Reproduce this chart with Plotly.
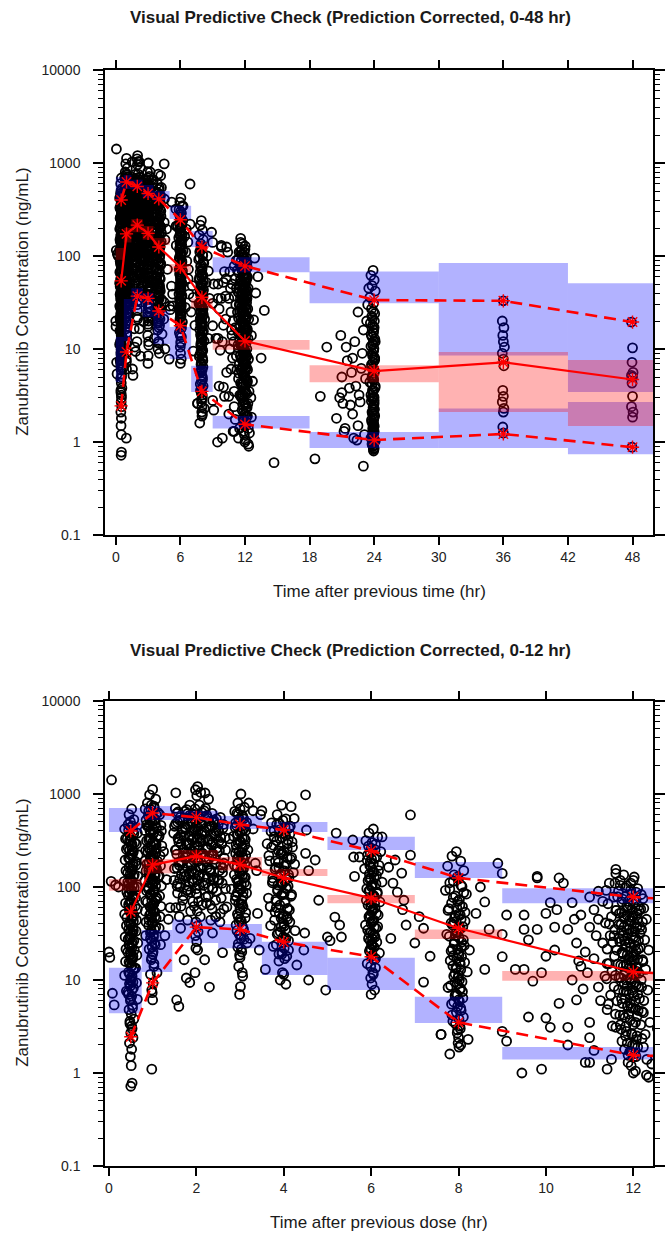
import sys
import plotly.graph_objects as go

# ---------------- observed concentrations (ng/mL) vs time after dose (h) ----------------
A_t = [0.52,0.46,0.57,0.44,0.50,0.55,0.48,0.42,0.59,0.51,0.47,0.54,0.45,0.61,0.49,0.53,0.43,0.56,0.50,0.46,
       0.58,0.52,0.44,0.55,0.48,0.60,0.47,0.53,0.41,0.56,0.50,0.45,0.54,0.49,0.57,0.46,0.52,0.43,0.55,0.51,
       0.48,0.58,0.45,0.53,0.50,0.47,0.56,0.44,0.52,0.49,0.54,0.46,0.51,0.57,0.48,0.53,0.50,0.55,0.47,0.52,
       0.49,0.51,0.53,0.50]
A_c = [690,600,530,470,440,395,360,330,300,275,250,228,205,188,170,156,142,130,118,108,
       99,90,82,75,68,62,57,52,47,43,39,35,32,29,26.5,24,22,20,18,16.5,
       15,13.5,12.2,11,10,9.1,8.2,7.4,6.7,6.0,5.4,4.8,4.3,3.8,3.4,3.0,2.7,2.4,2.1,1.8,
       1.5,1.2,0.78,0.72]
A2_t = [0.49,0.54,0.45,0.57,0.51,0.47,0.53,0.44,0.56,0.50,0.48,0.55,0.46,0.52,0.58,0.49,0.43,0.54,0.51,0.47,
        0.56,0.50,0.45,0.53,0.48,0.57,0.52,0.46,0.55,0.49,0.51,0.44,0.54,0.48,0.58,0.50,0.53,0.46,0.52,0.56,
        0.47,0.51,0.55,0.49,0.53,0.45,0.50,0.54,0.48,0.52]
A2_c = [505,455,410,375,345,315,287,262,240,220,198,180,163,149,136,124,113,103,94,86,
        79,72,65,59.5,54.5,49.5,45,41,37,33.5,30.5,27.5,25,23,21,19,17.2,15.6,14.2,12.8,
        11.6,10.5,9.5,8.6,7.8,7.0,6.3,5.0,3.6,3.2]
A3_t = [0.50,0.53,0.47,0.55,0.49,0.52,0.46,0.54,0.51,0.48,0.53,0.50,0.56,0.47,0.52,0.49,0.54,0.51,0.48,0.50]
A3_c = [310,250,205,168,139,116,97,81,68,57,48,40.5,34,28.5,24,20,16.8,14,11.7,9.8]
A4_t = [0.36,0.65,0.38,0.63,0.40,0.67,0.37,0.62,0.39,0.66,0.35,0.64,0.41,0.61,0.38,0.65,0.36,0.63,0.40,0.62,
        0.37,0.66,0.39,0.64,0.38,0.61,0.36,0.63,0.40,0.65]
A4_c = [420,380,330,290,255,222,195,172,150,131,115,100,88,77,67,58,51,44,38.5,33.5,
        29,25,21.5,18.5,15.8,13.4,11.2,9.3,7.6,6.2]

B_t = [1.00,0.93,1.07,0.88,1.03,0.96,1.12,0.90,1.05,0.98,0.86,1.09,0.94,1.01,1.14,0.91,1.04,0.97,1.08,0.89,
       1.02,0.95,1.11,0.87,1.06,0.99,0.92,1.13,1.00,0.94,1.07,0.90,1.03,0.96,1.10,0.88,1.01,0.97,1.05,0.93,
       1.08,0.99,0.91,1.04,0.95,1.02,0.98,1.06,0.92,1.00,0.97,1.03,0.95,1.01,0.99,1.00]
B_c = [1120,980,880,800,740,680,630,580,540,500,465,430,400,370,345,320,298,276,256,238,
       220,204,190,176,163,151,140,130,120,111,103,95,88,81,75,69,64,59,54,50,
       46,42,38.5,35,32,29,26.5,24,21.5,19,16.5,14,11.5,9.2,7.3,6.1]
B2_t = [0.97,1.04,0.91,1.08,0.99,0.94,1.06,0.89,1.02,0.96,1.10,0.93,1.01,1.05,0.90,0.98,1.07,0.95,1.03,0.92,
        1.00,1.09,0.97,1.04,0.93,1.06,0.99,0.91,1.02,0.95,1.08,0.98,1.03,0.94,1.01,0.96,1.05,0.92,1.00,1.07,
        0.97,1.02,0.95,1.04,0.99,1.01,0.98,1.03]
B2_c = [760,705,655,605,560,520,482,447,415,385,357,332,308,286,266,247,230,213,197,183,
        170,157,146,135,125,116,107,99,91.5,84.5,78,72,66.5,61.5,56.5,52,48,44,40.5,37,
        34,31,28,25,22.5,20,17.5,15]
B3_t = [0.99,1.05,0.92,1.02,0.96,1.08,0.94,1.01,0.98,1.04,0.91,1.06,0.97,1.00,1.03,0.95,1.07,0.99,1.02,0.97]
B3_c = [610,520,445,382,330,286,248,216,190,168,150,134,119,105,93,82,72,63,55,47]
B4_t = [0.83,1.16,0.85,1.19,0.82,1.15,0.86,1.21,0.84,1.17,0.83,1.18,0.85,1.15,0.82,1.20,0.86,1.16,0.84,1.19,
        0.83,1.17,0.85,1.15,0.84,1.18]
B4_c = [690,600,525,460,405,356,314,277,245,216,191,169,149,132,117,103,91,80,71,62,
        55,48,42,36,30,24]

C_t = [1.55,1.62,1.50,1.68,1.58,1.65,1.52,1.70,1.60,1.56,1.66,1.49,1.63,1.57,1.69,1.53,1.61,1.64,
       1.85,1.78,1.92,1.81,1.88,1.75,1.94,1.83,1.90,1.77,1.86,1.80,1.93,1.84,1.79,1.89,1.76,1.91,1.82,1.87,1.95,1.80,
       2.03,1.98,2.10,2.01,2.07,1.97,2.13,2.05,2.00,2.09,1.99,2.04,2.12,2.02,2.08,1.96,2.06,2.11,2.01,2.04,
       2.15,1.98,2.07,2.03,2.00,2.05,2.02,1.99,2.04,2.01,2.03,
       2.28,2.21,2.36,2.24,2.40,2.31,2.19,2.43,2.26,2.34,2.22,2.38,2.29,2.45,2.25,2.33,2.41,2.20,2.37,2.27,2.32,2.44,
       2.55,2.62,2.51,2.66,2.58,2.53,2.64,2.56,2.60,2.52,2.67,2.57,2.63,2.54]
C_c = [620,520,450,390,335,290,250,215,185,160,138,118,100,86,72,60,48,36,
       760,680,610,545,490,440,395,355,320,288,258,232,208,186,166,148,131,116,102,88,62,44,
       1200,1110,1040,960,760,690,630,575,525,480,438,400,365,333,304,277,252,229,208,189,
       170,152,135,118,96,70,55,42,33,26,21,
       880,700,620,555,495,442,396,354,317,284,254,227,203,181,161,143,126,110,95,80,64,48,
       560,470,400,340,290,245,205,172,143,118,96,76,58,42]
C2_t = [1.52,1.74,1.96,2.18,2.40,2.61,1.63,1.85,2.07,2.29,2.50,1.57,1.79,2.01,2.23,2.45,1.68,1.90,2.12,2.34,
        2.56,1.48,1.71,1.93,2.15,2.37,2.58,1.60,1.82,2.04,2.26,2.48,1.54,1.76,1.98,2.20,2.42,2.63,1.66,1.88,
        2.10,2.31,2.53,1.50,1.73,1.95,2.17,2.39,2.59,1.62,1.84,2.06,2.28,2.47,1.56,1.78,2.00,2.22,2.44,1.70,
        1.92,2.14,2.36,2.55,1.65,1.87,2.09,2.33,2.02,1.98]
C2_c = [700,650,600,660,520,430,560,590,545,510,470,500,470,455,435,400,420,410,385,370,
        340,380,350,335,318,300,290,305,283,270,258,240,250,236,222,210,198,180,188,176,
        165,155,150,158,145,137,128,120,110,122,113,105,98,90,102,93,85,78,72,80,
        70,64,58,52,62,55,48,44,38,30]
C3_t = [1.58,1.80,2.02,2.24,2.46,1.69,1.91,2.13,2.35,1.53,1.75,1.97,2.19,2.41,1.64,1.86,2.08,2.30,2.52,1.59,
        1.81,2.03,2.25,2.47,1.70,1.92,2.14,2.36,1.55,1.77,1.99,2.21,2.43,1.66,1.88,2.10,2.32,1.61,1.83,2.05,
        2.27,2.49,1.72,1.94,2.16,2.38,1.57,1.79,2.01,2.23]
C3_c = [640,615,580,590,540,505,490,470,452,480,430,415,398,372,360,352,335,322,310,330,
        298,280,268,262,255,242,231,220,225,211,196,187,175,183,170,160,150,172,141,133,
        126,119,130,112,104,97,108,91,84,67]

D_t = [3.02,2.95,3.10,2.88,3.05,2.98,3.15,2.92,3.08,3.00,2.85,3.12,2.96,3.04,3.18,2.90,3.06,2.99,3.11,2.93,
       3.03,2.87,3.09,2.97,3.14,3.01,2.94,3.07,2.89,3.05,3.00,3.13,2.96,3.03,2.91,3.08,2.98,3.02,3.16,2.95,
       3.04,3.00,2.97,3.06,3.01,2.99]
D_c = [1000,800,720,650,590,540,495,455,418,384,352,323,296,272,250,229,210,193,177,162,
       149,136,125,114,104,95,87,79,72,65,59,53,48,43,39,35,31,28,25,22.5,
       20,17.5,14,11,8.5,7.0]
D2_t = [3.00,2.93,3.07,2.97,3.11,2.89,3.04,2.95,3.09,3.01,2.91,3.06,2.98,3.13,2.94,3.03,2.87,3.08,2.99,3.05,
        2.92,3.10,2.96,3.02,3.15,2.90,3.04,2.97,3.07,3.00,2.94,3.12,2.98,3.05,2.93,3.01,3.09,2.96,3.03,2.99]
D2_c = [690,620,565,515,475,436,400,367,337,309,284,261,240,220,202,186,171,157,144,132,
        121,111,102,93.5,86,79,72.5,66.5,61,56,51,46.5,42,38,34,30.5,27.5,24.5,21.5,18.5]
D3_t = [2.96,3.08,2.90,3.02,3.13,2.94,3.05,2.99,3.11,2.92,3.04,2.97,3.09,3.01,2.93,3.06,3.00,3.12,2.95,3.03,
        2.98,3.07,2.91,3.02,3.00]
D3_c = [600,540,490,445,405,370,338,308,282,258,236,216,198,181,166,152,139,127,116,106,
        97,88,80,66,45]

E_t = [3.95,3.85,4.05,3.72,4.15,3.90,4.00,3.78,4.10,3.62,4.20,3.88,3.98,4.08,3.68,4.25,3.82,4.02,3.93,4.12,
       3.75,3.97,4.06,3.86,4.18,3.65,4.03,3.91,4.09,3.80,4.00,3.94,4.14,3.70,4.04,3.87,3.99,4.11,3.83,4.01,
       3.96,4.07,3.89,4.30,3.58,4.00,3.92,4.05,3.97,4.02]
E_c = [760,600,540,490,450,412,378,347,318,292,268,246,226,208,191,176,162,149,137,126,
       116,107,98,90,83,76,70,64,59,54,50,46,42,38.5,35,32,29,26.5,24,22,
       20,18,16,14.5,13,11.5,10,9,12,17]
E2_t = [3.98,3.84,4.12,3.71,4.04,3.91,4.19,3.77,4.08,3.95,3.66,4.15,3.88,4.01,3.80,4.22,3.93,4.06,3.74,4.10,
        3.86,3.99,4.17,3.82,4.03,3.69,4.13,3.90,4.07,3.79,4.00,3.94,4.26,3.85,4.05,3.97,3.76,4.11,3.89,4.02,
        3.92,4.09,3.83,4.01,3.96]
E2_c = [520,470,430,395,362,332,305,280,257,236,217,199,183,168,155,143,131,121,111,102,
        94,86.5,79.5,73,67,61.5,56.5,52,48,44,40.5,37,34,31,28,25.5,23,21,19,27,
        33,45,60,85,110]
E3_t = [3.90,4.03,3.78,4.14,3.96,3.84,4.08,3.72,4.00,3.93,4.18,3.81,4.05,3.89,3.99,4.11,3.75,4.02,3.87,4.06,
        3.95,3.83,4.09,3.98,4.01]
E3_c = [480,440,405,372,342,315,290,266,245,225,207,190,175,161,148,136,125,115,105,96,
        82,70,58,48,38]

F_t = [6.05,5.95,6.15,5.88,6.10,6.00,6.22,5.92,6.08,5.98,6.18,5.85,6.03,6.12,5.96,6.25,6.01,5.90,6.14,6.06,
       5.99,6.20,5.93,6.09,6.02,6.16,5.97,6.04,5.87,6.11,6.00,6.07,5.94,6.13,6.03,5.98,6.19,6.01,6.06,5.91,
       6.10,6.04,5.99,6.02,6.08,6.00]
F_c = [420,380,345,315,288,262,240,220,202,186,171,157,145,133,123,113,104,96,88,81,
       75,69,64,59,54,50,46,42.5,39,36,33,30.5,28,25.5,23.5,21.5,19.5,18,16.5,15,
       13.5,12,10.5,9,7.8,7.0]
F2_t = [6.02,5.94,6.09,5.98,6.13,5.91,6.05,6.00,6.17,5.96,6.07,5.93,6.11,6.01,5.97,6.14,6.04,5.89,6.08,5.99,
        6.03,6.12,5.95,6.06,6.00,6.15,5.92,6.04,6.09,5.98,6.01,6.07,5.96,6.03,6.10,5.99,6.05,6.02]
F2_c = [300,275,252,231,211,194,178,163,150,138,127,117,108,100,92,85,78.5,72,66.5,61.5,
        56.5,52,48,44,40.5,37.5,34.5,31.5,29,26.5,24.5,22.5,20.5,18.5,17,14,11.5,24]
F3_t = [6.01,5.97,6.06,5.99,6.03,5.95,6.08,6.00,6.04,5.98,6.02,6.07,5.96,6.03,6.00]
F3_c = [200,170,145,124,106,91,78,67,58,50,43,37,32,27.5,21]

G_t = [7.95,7.85,8.05,7.75,8.12,7.90,8.00,7.80,8.08,7.70,8.18,7.88,7.98,8.03,7.78,8.15,7.93,8.06,7.83,8.10,
       7.96,7.73,8.01,7.91,8.13,7.86,7.99,8.07,7.81,8.04,7.94,8.20,7.89,8.02,7.97,7.76,8.09,7.92,8.00,7.84,
       8.05,7.95,8.11,7.87,8.03,7.98,7.60,8.22,7.99,8.01]
G_c = [240,215,190,168,150,135,122,111,101,92,84,77,70,64,58.5,53.5,49,45,41,37.5,
       34,31,28.5,26,23.5,21.5,19.5,17.8,16.2,14.8,13.5,12.2,11,10,9.1,8.3,7.5,6.8,6.1,5.5,
       5.0,4.5,4.0,3.6,3.2,2.9,2.6,2.3,2.1,1.9]
G2_t = [7.97,7.88,8.06,7.80,8.12,7.93,8.02,7.84,8.09,7.76,8.00,7.91,8.15,7.86,8.04,7.95,7.79,8.11,7.90,8.07,
        7.83,8.01,7.96,8.14,7.87,8.05,7.92,7.99,8.08,7.82,8.03,7.94,8.10,7.89,7.98,8.06,7.85,8.01,7.93,8.04,
        7.97,8.00]
G2_c = [128,115,104,95,87,80,73,67,61.5,56,51,46.5,43,39,35.5,32.5,29.5,27,24.5,22.5,
        20.5,18.7,17,15.5,14.2,12.9,11.7,10.6,9.6,8.7,7.9,7.1,6.4,5.8,5.2,4.7,4.2,3.8,3.4,3.0,
        2.7,2.4]
G3_t = [7.96,8.04,7.90,8.01,7.93,8.07,7.98,7.88,8.03,7.95,8.00,7.92,8.05,7.97,8.02]
G3_c = [60,50,42,35.5,30,25.5,21.5,18.3,15.5,13.2,11.2,9.5,8.1,6.9,5.9]

H_t = [11.45,11.38,11.55,11.42,11.60,11.50,11.36,11.58,11.47,11.53,11.40,11.57,11.44,11.51,11.39,11.56,11.48,11.43,11.59,11.52,
       11.78,11.70,11.85,11.66,11.82,11.74,11.88,11.68,11.80,11.72,11.86,11.76,11.69,11.83,11.75,11.89,11.71,11.81,11.67,11.79,
       11.84,11.73,11.87,11.77,11.70,11.82,
       12.02,11.94,12.10,11.97,12.06,11.92,12.13,12.00,11.95,12.08,11.98,12.04,11.91,12.11,12.01,11.96,12.07,12.03,11.93,12.12,
       11.99,12.05,11.95,12.09,12.00,11.97,12.03,12.06,
       12.22,12.17,12.30,12.19,12.26,12.35,12.21,12.28,12.18,12.33,12.24,12.20,12.38,12.27,12.23,12.31]
H_c = [110,92,78,66,56,48,41,35,30,25.5,21.5,18,15,12.5,10.3,8.5,6.9,5.5,4.3,3.2,
       135,118,103,90,79,69,60,52,45.5,39.5,34.5,30,26,22.5,19.5,16.8,14.5,12.4,10.6,9.0,
       7.6,6.3,5.2,4.2,3.3,2.5,
       128,110,96,84,73,64,56,49,43,37.5,33,28.5,25,21.5,18.5,16,13.8,11.8,10,8.5,
       7.2,6.0,5.0,4.1,3.3,2.6,2.0,1.5,
       75,58,45,35,27,21,16.5,13,10,7.8,6.0,4.6,3.5,2.6,1.9,1.4]
H2_t = [11.58,11.70,11.82,11.94,12.06,12.18,11.64,11.76,11.88,12.00,12.12,12.24,11.61,11.73,11.85,11.97,12.09,12.21,11.67,11.79,
        11.91,12.03,12.15,11.56,11.68,11.80,11.92,12.04,12.16,11.62,11.74,11.86,11.98,12.10,12.22,11.65,11.77,11.89,12.01,12.13,
        11.59,11.71,11.83,11.95,12.07,12.19,11.66,11.78,11.90,12.02,12.14,11.63,11.75,11.87,11.99,12.11,12.23,11.69,11.81,11.93,
        12.05,12.17,11.60,11.72,11.84,11.96,12.08,12.20,11.74,11.86,11.98,12.10,11.80,11.92,12.04,11.88,12.00,11.95,12.07,11.83]
H2_c = [110,104,98,93,88,83,78.5,74,70,66,62.5,59,56,53,50,47,44.5,42,39.5,37.5,
        35.5,33.5,31.5,30,28,26.5,25,23.5,22.3,21,19.8,18.7,17.7,16.7,15.8,14.9,14.1,13.3,12.5,11.8,
        11.2,10.6,10,9.4,8.9,8.4,7.9,7.5,7.1,6.7,6.3,5.95,5.6,5.3,5.0,4.7,4.45,4.2,3.95,3.7,
        3.5,3.3,3.1,2.95,2.8,2.65,2.5,2.35,2.2,2.1,2.0,1.9,1.8,1.7,1.62,1.55,1.48,1.7,2.3,3.2]
H3_t = [11.85,11.97,12.09,11.79,11.91,12.03,12.15,11.73,11.88,12.00,12.12,11.82,11.94,12.06,11.76,11.90,12.02,11.84,11.96,12.08,
        11.78,11.92,12.04,11.86,11.98,12.10,11.81,11.93,12.05,11.89]
H3_c = [62,57,52,48,44,40.5,37,34,31.5,29,26.5,24.5,22.5,20.5,19,17.5,16,14.7,13.5,12.4,
        11.3,10.3,9.4,8.6,7.8,7.0,6.3,5.6,4.9,4.3]

S_t = [0.06,0.05,0.15,0.22,0.00,0.02,0.08,0.12,0.98,1.10,0.98,1.53,1.55,1.60,1.77,1.85,1.72,2.19,2.30,1.97,
       1.99,2.37,2.45,2.60,2.60,2.50,2.20,2.70,2.67,3.20,3.23,3.05,3.30,3.38,3.40,3.44,3.50,3.47,3.96,4.17,
       4.24,4.46,4.50,4.52,4.50,4.72,4.57,4.80,4.48,4.57,5.17,5.28,5.32,5.00,5.06,4.96,5.20,5.60,5.62,5.58,
       5.73,6.25,6.55,6.90,6.90,8.90,9.80,10.30,11.60,9.00,6.40,6.70,6.75,6.72,6.80,7.20,7.00,7.20,7.60,7.80,
       6.50,6.60,7.10,7.35,6.45,8.25,8.60,8.60,8.40,9.00,9.00,9.00,8.50,8.70,9.10,9.50,9.80,10.00,10.20,10.25,
       10.40,10.10,9.80,9.60,9.30,9.50,9.70,9.90,9.60,10.00,10.10,10.30,10.50,10.60,10.70,10.80,10.70,11.00,11.10,11.00,
       11.30,11.40,11.20,11.40,11.00,11.00,11.10,11.00,11.60,12.00,10.50,10.60,10.20,10.00,9.50,9.45,9.90,10.90,11.40,12.00,
       12.30,8.05,9.10,10.50,11.95,12.05,11.88,12.35,11.50,12.42,10.90,11.20,11.30,10.80,11.15,10.95,11.25,10.85,11.35,11.10,
       10.65,10.75,11.45,11.20,1.25,1.32,1.40,1.28,2.75,2.80,3.30,3.35,1.20,1.36]
S_c = [1415,115,105,100,20,17.5,7.2,5.4,1.1,12,7.8,1030,6.1,5.2,10.5,9.4,16.5,16.5,8.4,12,
       22,32,48,19.7,160,410,1025,61,250,800,28,12,660,150,52,21,660,600,19,730,
       545,21,980,410,230,195,150,72,32,10,47.5,39,29,29,26.5,7.8,380,210,130,320,
       210,345,195,220,595,180,130,125,140,140,163,141,72,57,39,36,25,9.5,2.6,1.6,
       110,88,48,18,28,21,69,13,52,17.8,2.8,31,100,35,50,50,125,52,37,57,
       110,68,35,27,13,13,9.7,12,4.0,3.9,3.1,5.6,3.1,10,6.1,14,25,37,57,78,
       25,15,8.4,4.8,3.5,2.4,1.75,1.3,155,118,35,68,21,18,35,1.0,1.1,1.3,1.1,1.0,
       0.95,2.0,2.2,2.0,1.2,1.05,1.3,0.9,1.4,1.25,20,45,70,50,30,12,6,8,11,17,
       45,16,40,90,240,120,60,30,330,95,420,180,400,45]

L_t = [12.6,12.9,12.8,13.8,13.2,13.5,14.7,13.0,12.7,12.55,12.6,
       18.5,19.0,19.6,20.8,21.0,21.5,22.0,22.3,22.5,22.8,23.0,21.8,22.6,23.1,22.9,21.3,20.5,23.2,22.2,23.3,
       22.7,21.7,23.4,22.1,21.0,21.1,21.2,22.4,21.9,23.0,22.5,23.5,22.0,21.4,20.9,
       23.9,23.7,24.0,23.8,24.1,23.6,23.95,23.75,24.05,23.85,23.65,24.0,23.9,23.8,24.1,23.7,23.95,23.85,24.05,23.75,
       23.9,24.0,23.8,23.6,24.1,23.95,23.7,23.85,24.0,23.9,23.8,24.05,23.75,23.95,23.9,24.0,23.85,23.7,24.1,23.8,
       23.9,24.0,23.95,23.85,23.9,24.0,23.8,23.9,24.05,23.95,
       36.0,35.9,36.05,35.95,36.0,36.1,35.9,36.0,36.05,35.95,36.0,35.9,36.05,36.0,35.95,36.0,
       47.9,48.0,47.95,48.05,47.9,48.0,47.95,48.0,47.9,48.05,48.0,47.95]
L_c = [1.85,95,20.6,26,60,8,0.6,40,4.5,3,14,
       0.66,3.1,10.5,3.0,5.0,7.5,2.0,4.0,1.5,6.2,0.55,2.5,3.2,1.2,9,1.4,1.8,4.8,12,20,
       2.7,3.8,30,1.1,3.4,2.6,1.3,1.05,5.6,16,25,45,8,10.5,14,
       70,62,55,48,42,36,31,27,24,21.5,19,17,15,13.5,12,10.7,9.5,8.5,7.6,6.8,
       6.1,5.5,4.9,4.4,4.0,3.6,3.2,2.9,2.6,2.35,2.1,1.9,1.72,1.56,1.42,1.3,1.2,1.1,1.02,0.95,
       0.9,0.85,0.8,1.15,1.5,2.0,3.0,5.0,8.0,12.0,
       33,20,17,14,12,10.5,9,7.8,6.6,3.6,3.1,2.7,2.3,2.1,1.45,1.25,
       19.5,10.3,7.2,5.6,5.2,5.0,4.3,3.1,2.4,2.1,1.85,0.88]
L2_t = [23.92,23.78,24.02,23.86,23.96,23.72,24.06,23.88,23.98,23.82,24.00,23.90,23.76,24.04,23.84,23.94,23.80,24.08,23.87,23.99,
        23.74,23.93,24.03,23.85,23.97,23.79,24.01,23.89,23.95,23.83,24.05,23.91,23.88,23.97,23.93]
L2_c = [25.5,22.5,20,18,16,14.3,12.8,11.4,10.1,9.0,8.0,7.2,6.4,5.8,5.2,4.65,4.2,3.8,3.4,3.05,
        2.75,2.5,2.25,2.0,1.8,1.63,1.48,1.35,1.24,1.14,1.05,0.98,0.92,0.87,0.83]
L3_t = [23.93,23.87,23.98,23.90,23.95,23.84,24.0,23.91,23.96,23.88,23.94,23.99,23.89,23.92,23.97]
L3_c = [15,11,8.2,6.2,4.7,3.6,2.8,2.2,1.75,1.4,1.18,1.0,0.9,1.6,3.0]

# ---------------- VPC bins and prediction-interval CIs ----------------
bin_lo = [0, 0.75, 1.45, 2.5, 3.5, 5, 7, 9, 18, 30, 42]
bin_hi = [0.75, 1.45, 2.5, 3.5, 5, 7, 9, 18, 30, 42, 50]
p95_ci_lo = [390, 525, 520, 420, 390, 250, 125, 67, 31, 8.5, 3.45]
p95_ci_hi = [706, 741, 660, 580, 500, 347, 186, 97, 68, 84, 51]
p50_ci_lo = [91, 140, 180, 150, 131, 67, 27.6, 9.8, 4.4, 2.1, 1.49]
p50_ci_hi = [122, 200, 250, 210, 156, 82, 35, 12.5, 6.7, 9.3, 7.6]
p05_ci_lo = [4.4, 12.2, 25, 22, 11.3, 7.8, 3.45, 1.4, 0.86, 0.86, 0.74]
p05_ci_hi = [13.5, 34.5, 45, 40, 25.7, 17.3, 6.6, 1.9, 1.28, 2.3, 2.7]

# observed percentiles
pct_t = [0.5, 1, 2, 3, 4, 6, 8, 12, 24, 36, 48]
obs_p50 = [54, 173, 215, 175, 125, 76, 36, 12.2, 5.8, 7.2, 4.7]
obs_p95 = [400, 625, 560, 470, 410, 245, 125, 78, 33.6, 33, 19.5]
obs_p05 = [2.45, 9.3, 37, 35, 25.6, 17.8, 3.5, 1.55, 1.05, 1.22, 0.88]

y_ticks = [0.1, 1, 10, 100, 1000, 10000]
y_ticktext = ["0.1", "1", "10", "100", "1000", "10000"]
x_ticks_top = [0, 6, 12, 18, 24, 30, 36, 42, 48]
x_ticks_bot = [0, 2, 4, 6, 8, 10, 12]

obs_t, obs_c = [], []
for tt, cc in [(A_t, A_c), (A2_t, A2_c), (A3_t, A3_c), (A4_t, A4_c),
               (B_t, B_c), (B2_t, B2_c), (B3_t, B3_c), (B4_t, B4_c),
               (C_t, C_c), (C2_t, C2_c), (C3_t, C3_c), (D_t, D_c), (D2_t, D2_c), (D3_t, D3_c),
               (E_t, E_c), (E2_t, E2_c), (E3_t, E3_c), (F_t, F_c), (F2_t, F2_c), (F3_t, F3_c),
               (G_t, G_c), (G2_t, G2_c), (G3_t, G3_c), (H_t, H_c), (H2_t, H2_c), (H3_t, H3_c),
               (S_t, S_c), (L_t, L_c), (L2_t, L2_c), (L3_t, L3_c)]:
    if len(tt) != len(cc):
        print("length mismatch", len(tt), len(cc), file=sys.stderr)
    n = min(len(tt), len(cc))
    obs_t += tt[:n]
    obs_c += cc[:n]

BLUE = "rgba(0,0,255,0.30)"
PINK = "rgba(255,0,0,0.30)"
FONT = "Liberation Sans, Arial, sans-serif"

fig = go.Figure()

def add_panel(xa, ya):
    fig.add_trace(go.Scatter(x=obs_t, y=obs_c, mode="markers", xaxis=xa, yaxis=ya,
                             marker=dict(symbol="circle-open", size=9, color="black",
                                         line=dict(width=1.8, color="black")),
                             hoverinfo="skip", showlegend=False))
    for lo_arr, hi_arr, col in [(p95_ci_lo, p95_ci_hi, BLUE), (p05_ci_lo, p05_ci_hi, BLUE),
                                (p50_ci_lo, p50_ci_hi, PINK)]:
        for i in range(len(bin_lo)):
            fig.add_trace(go.Scatter(
                x=[bin_lo[i], bin_hi[i], bin_hi[i], bin_lo[i], bin_lo[i]],
                y=[lo_arr[i], lo_arr[i], hi_arr[i], hi_arr[i], lo_arr[i]],
                mode="lines", fill="toself", fillcolor=col, line=dict(width=0),
                xaxis=xa, yaxis=ya, hoverinfo="skip", showlegend=False))
    for yy, dash, w in [(obs_p95, "12px,7px", 2.6), (obs_p05, "12px,7px", 2.6), (obs_p50, "solid", 2.2)]:
        fig.add_trace(go.Scatter(x=pct_t, y=yy, mode="lines+markers", xaxis=xa, yaxis=ya,
                                 line=dict(color="red", width=w, dash=dash),
                                 marker=dict(symbol="asterisk-open", size=11, color="red",
                                             line=dict(width=1.4, color="red")),
                                 hoverinfo="skip", showlegend=False))

add_panel("x", "y")
add_panel("x2", "y2")

tickfont = dict(family=FONT, size=14, color="#222")
xcommon = dict(showline=True, linecolor="black", linewidth=1.5, mirror="ticks", ticks="outside",
               ticklen=8, tickwidth=1.5, tickcolor="black", showgrid=False, zeroline=False,
               tickfont=tickfont, tickmode="array")
minor_vals = [m * 10 ** e for e in range(-1, 4) for m in range(2, 10)]
ycommon = dict(type="log", range=[-1, 4], showline=True, linecolor="black", linewidth=1.5,
               mirror="ticks", ticks="outside", ticklen=10, tickwidth=1.5, tickcolor="black",
               showgrid=False, zeroline=False, tickfont=tickfont, tickmode="array",
               tickvals=y_ticks, ticktext=y_ticktext, ticklabelstandoff=10,
               minor=dict(tickmode="array", tickvals=minor_vals, ticks="outside", ticklen=5,
                          tickwidth=1, tickcolor="black", showgrid=False))

fig.update_layout(
    width=672, height=1235, autosize=False,
    margin=dict(l=105, r=7, t=70, b=69),
    paper_bgcolor="white", plot_bgcolor="white",
    xaxis=dict(xcommon, domain=[0, 1], anchor="y", range=[-1.0, 49.9],
               tickvals=x_ticks_top, ticktext=[str(v) for v in x_ticks_top]),
    yaxis=dict(ycommon, domain=[0.5757, 1], anchor="x"),
    xaxis2=dict(xcommon, domain=[0, 1], anchor="y2", range=[-0.09, 12.45],
                tickvals=x_ticks_bot, ticktext=[str(v) for v in x_ticks_bot]),
    yaxis2=dict(ycommon, domain=[0, 0.4243], anchor="x2"),
    showlegend=False,
)

H_AREA = 1096.0
def py(pix):
    return (1166 - pix) / H_AREA
def px(pix):
    return (pix - 105) / 560.0

titles = [
    ("<b>Visual Predictive Check (Prediction Corrected, 0-48 hr)</b>", 356, 18, 17, 0),
    ("<b>Visual Predictive Check (Prediction Corrected, 0-12 hr)</b>", 356, 650, 17, 0),
    ("Time after previous time (hr)", 385, 592, 17, 0),
    ("Time after previous dose (hr)", 385, 1222, 17, 0),
    ("Zanubrutinib Concentration (ng/mL)", 20, 302, 17, -90),
    ("Zanubrutinib Concentration (ng/mL)", 20, 933, 17, -90),
]
for text, xp, yp, fs, ang in titles:
    fig.add_annotation(text=text, xref="paper", yref="paper", x=px(xp), y=py(yp),
                       xanchor="center", yanchor="middle", showarrow=False, textangle=ang,
                       font=dict(family=FONT, size=fs, color="#1a1a1a"))

fig.write_html("out.html")
